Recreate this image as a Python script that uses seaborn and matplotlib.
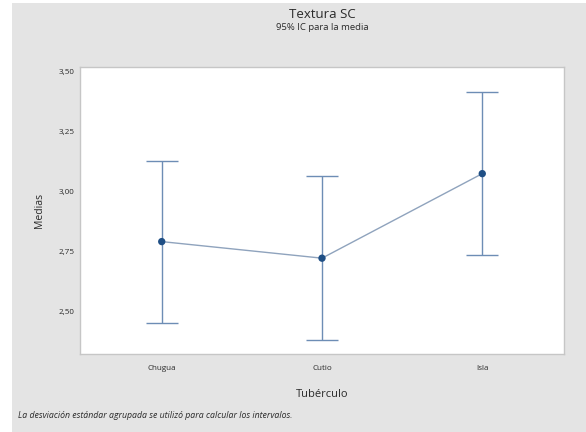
import matplotlib
matplotlib.use("Agg")
import matplotlib.pyplot as plt
from matplotlib.patches import Rectangle
import seaborn as sns
import pandas as pd

# Means and 95% confidence limits per tuber type
categories = ["Chugua", "Cutio", "Isla"]
means = [2.793, 2.724, 3.076]
lower = [2.455, 2.383, 2.737]
upper = [3.130, 3.067, 3.415]
y_ticks = [2.50, 2.75, 3.00, 3.25, 3.50]
y_tick_labels = ["2,50", "2,75", "3,00", "3,25", "3,50"]

sns.set_theme(style="white")
plt.rcParams["font.family"] = ["Open Sans", "DejaVu Sans"]

panel_gray = "#e4e4e4"
point_color = "#1f4f85"
bar_color = "#6d8db5"
line_color = "#8fa3bd"
text_color = "#2a2a2a"

fig = plt.figure(figsize=(5.86, 4.32), dpi=100)
fig.patch.set_facecolor("white")
fig.patches.append(Rectangle((12 / 586, 0.0), 1 - 12 / 586, 1 - 3 / 432,
                             transform=fig.transFigure, facecolor=panel_gray,
                             edgecolor="none", zorder=-10))

ax = fig.add_axes([80 / 586, 1 - 354 / 432, (564 - 80) / 586, (354 - 67) / 432])
ax.set_facecolor("white")

df = pd.DataFrame({"Tubérculo": categories, "Medias": means})

# Interval bars with caps
x_pos = list(range(len(categories)))
err_low = [m - lo for m, lo in zip(means, lower)]
err_high = [hi - m for m, hi in zip(means, upper)]
ax.errorbar(x_pos, means, yerr=[err_low, err_high], fmt="none",
            ecolor=bar_color, elinewidth=1.0, capsize=11.2, capthick=1.0, zorder=2)

# Connected means
sns.pointplot(data=df, x="Tubérculo", y="Medias", errorbar=None, ax=ax,
              color=line_color, markers="", linestyles="-", linewidth=1.0, zorder=3)
sns.scatterplot(data=df, x="Tubérculo", y="Medias", ax=ax, color=point_color,
                s=28, edgecolor="none", zorder=4, legend=False)

ax.set_xlim(-0.51, 2.51)
ax.set_ylim(2.325, 3.52)
ax.set_yticks(y_ticks)
ax.set_yticklabels(y_tick_labels)

for side in ax.spines.values():
    side.set_color("#c6c6c6")
    side.set_linewidth(1.0)

ax.tick_params(axis="both", which="both", length=0, labelsize=5.8,
               colors=text_color, pad=4)
ax.tick_params(axis="x", pad=8)

ax.set_xlabel("Tubérculo", fontsize=8, color=text_color, labelpad=12)
ax.set_ylabel("Medias", fontsize=7.5, color=text_color, labelpad=10)

fig.text(322 / 586, 1 - 14 / 432, "Textura SC", ha="center", va="center",
         fontsize=9.5, color=text_color)
fig.text(322 / 586, 1 - 28 / 432, "95% IC para la media", ha="center", va="center",
         fontsize=6.8, color=text_color)
fig.text(18 / 586, 1 - 416 / 432,
         "La desviación estándar agrupada se utilizó para calcular los intervalos.",
         ha="left", va="center", fontsize=6.3, style="italic", color=text_color)

fig.savefig("out.png", dpi=100, facecolor=fig.get_facecolor())
